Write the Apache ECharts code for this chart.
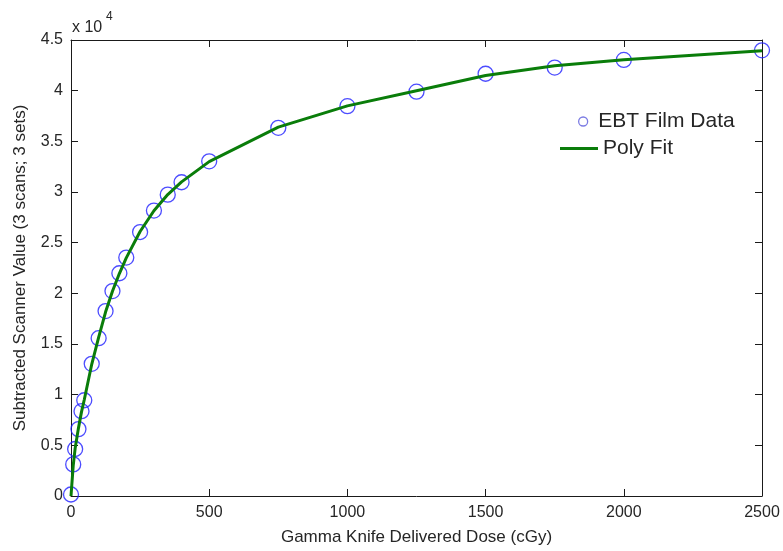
<!DOCTYPE html>
<html>
<head>
<meta charset="utf-8">
<script src="https://cdn.jsdelivr.net/npm/echarts@6/dist/echarts.min.js"></script>
<style>
  html, body { margin: 0; padding: 0; background: #fff; }
  #chart { width: 783px; height: 551px; }
</style>
</head>
<body>
<div id="chart"></div>
<script>
// Delivered dose (cGy) for each film measurement
const doses = [0, 8, 15, 27, 38, 48, 75, 100, 125, 150, 175, 200, 250, 300, 350, 400, 500, 750, 1000, 1250, 1500, 1750, 2000, 2500];
// Subtracted scanner value averaged over 3 scans and 3 sets
const filmData = [150, 3120, 4640, 6600, 8370, 9450, 13040, 15570, 18250, 20220, 21980, 23530, 26050, 28170, 29740, 30960, 33030, 36330, 38470, 39900, 41670, 42280, 43030, 43980];
// Polynomial fit evaluated at the same doses
const polyFit = [0, 3000, 4700, 6700, 8300, 9500, 13000, 15650, 18150, 20200, 21950, 23500, 26100, 28150, 29750, 31000, 33000, 36400, 38500, 40000, 41500, 42450, 43050, 43950];
// Axis ticks
const xTicks = [0, 500, 1000, 1500, 2000, 2500];
const yTickScale = 1e4;

const FONT = "'Liberation Sans', Arial, sans-serif";
const TXT = '#262626';
const AX = '#1a1a1a';
const FIT_GREEN = '#0a7d0a';

const chart = echarts.init(document.getElementById('chart'), null, { renderer: 'canvas' });

// Closed box: every axis keeps its own edge and draws ticks inward
const boxAxisLine = { show: true, onZero: false, lineStyle: { color: AX, width: 1 } };
const boxTick = { show: true, inside: true, length: 7, lineStyle: { color: AX, width: 1 } };

chart.setOption({
  animation: false,
  backgroundColor: '#ffffff',
  grid: { left: 71, right: 21, top: 40, bottom: 52 },
  xAxis: [
    {
      type: 'value', position: 'bottom',
      min: xTicks[0], max: xTicks[xTicks.length - 1], interval: xTicks[1] - xTicks[0],
      axisLine: boxAxisLine, axisTick: boxTick, splitLine: { show: false },
      axisLabel: { color: TXT, fontSize: 16, fontFamily: FONT, margin: 9, formatter: v => String(v) },
      name: 'Gamma Knife Delivered Dose (cGy)', nameLocation: 'middle', nameGap: 33,
      nameTextStyle: { color: TXT, fontSize: 17, fontFamily: FONT }
    },
    {
      type: 'value', position: 'top',
      min: xTicks[0], max: xTicks[xTicks.length - 1], interval: xTicks[1] - xTicks[0],
      axisLine: boxAxisLine, axisTick: boxTick, splitLine: { show: false },
      axisLabel: { show: false }
    }
  ],
  yAxis: [
    {
      type: 'value', position: 'left',
      min: 0, max: 45000, interval: 5000,
      axisLine: boxAxisLine, axisTick: boxTick, splitLine: { show: false },
      axisLabel: {
        color: TXT, fontSize: 16, fontFamily: FONT, margin: 8,
        formatter: v => String(v / yTickScale)
      },
      name: 'Subtracted Scanner Value (3 scans; 3 sets)', nameLocation: 'middle', nameGap: 42,
      nameTextStyle: { color: TXT, fontSize: 17, fontFamily: FONT }
    },
    {
      type: 'value', position: 'right',
      min: 0, max: 45000, interval: 5000,
      axisLine: boxAxisLine, axisTick: boxTick, splitLine: { show: false },
      axisLabel: { show: false }
    }
  ],
  legend: [
    {
      orient: 'vertical', left: 573, top: 106,
      itemWidth: 20, itemHeight: 9, itemGap: 0,
      textStyle: { color: TXT, fontSize: 21, fontFamily: FONT },
      data: [{
        name: 'EBT Film Data', icon: 'circle',
        itemStyle: { color: 'transparent', borderColor: '#5a5adc', borderWidth: 1.3 }
      }]
    },
    {
      orient: 'vertical', left: 555, top: 133,
      itemWidth: 38, itemHeight: 3, itemGap: 0,
      textStyle: { color: TXT, fontSize: 21, fontFamily: FONT },
      data: [{
        name: 'Poly Fit', icon: 'rect',
        itemStyle: { color: FIT_GREEN, borderWidth: 0 }
      }]
    }
  ],
  graphic: [
    {
      type: 'text', left: 72, top: 20, silent: true,
      style: { text: 'x 10', fill: TXT, font: '16px ' + FONT }
    },
    {
      type: 'text', left: 106, top: 11, silent: true,
      style: { text: '4', fill: TXT, font: '12px ' + FONT }
    }
  ],
  series: [
    {
      name: 'EBT Film Data', type: 'scatter',
      data: doses.map((d, i) => [d, filmData[i]]),
      symbol: 'circle', symbolSize: 15,
      itemStyle: { color: 'transparent', borderColor: '#1f1fff', borderWidth: 1.3 },
      z: 2
    },
    {
      name: 'Poly Fit', type: 'line',
      data: doses.map((d, i) => [d, polyFit[i]]),
      symbol: 'none', smooth: false,
      lineStyle: { color: FIT_GREEN, width: 3 },
      itemStyle: { color: FIT_GREEN },
      z: 3
    }
  ]
});
</script>
</body>
</html>
